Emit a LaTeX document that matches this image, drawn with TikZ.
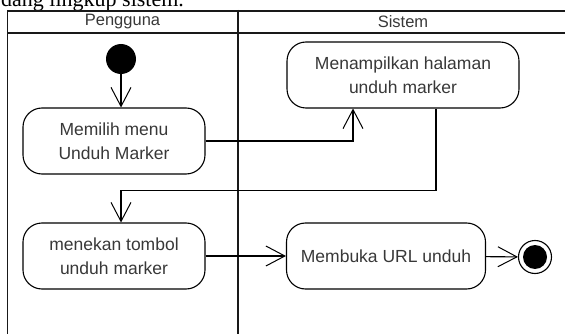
\documentclass[tikz,border=0pt]{standalone}
\usepackage{fontspec}
\setmainfont{Liberation Sans}
\newfontfamily\bodyserif{Liberation Serif}
\usetikzlibrary{arrows.meta}
\definecolor{ink}{HTML}{383838}
\begin{document}
\begin{tikzpicture}[x=1pt,y=-1pt,
  lane/.style={line width=1.8pt, black!90},
  lanetitle/.style={font=\fontsize{16.5}{18}\selectfont, text=ink},
  action/.style={draw, line width=1.1pt, rounded corners=19pt, minimum height=66pt,
    align=center, inner sep=0pt, font=\fontsize{17.5}{24}\selectfont, text=ink},
  flow/.style={line width=1.1pt, -{Straight Barb[length=19pt,width=20pt,line width=1pt]}},
  initial/.style={circle, fill=black, minimum size=30pt, inner sep=0pt},
  final/.style={circle, draw, line width=1.1pt, minimum size=33pt, inner sep=0pt,
    path picture={\fill[black] (path picture bounding box.center) circle (12pt);}}
]
\useasboundingbox (0,0) rectangle (565,334);

% running text of the page, cut by the top edge
\node[anchor=base west, inner sep=0pt, font=\bodyserif\fontsize{22}{24}\selectfont] (caption) at (1,7) {dang lingkup sistem.};

% swimlanes
\draw[lane] (7.5,10) -- (7.5,334);
\draw[lane] (238,10) -- (238,334);
\draw[lane] (7.5,11) -- (565,11);
\draw[lane] (7.5,33) -- (565,33);
\node[lanetitle] (pengguna) at (122.5,22) {Pengguna};
\node[lanetitle] (sistem) at (403,22) {Sistem};

% activities
\node[initial] (mulai) at (121,59) {};
\node[action, minimum width=182pt] (pilih) at (114,141) {Memilih menu\\Unduh Marker};
\node[action, minimum width=232pt] (tampil) at (403,75) {Menampilkan halaman\\unduh marker};
\node[action, minimum width=182pt] (tekan) at (114,256) {menekan tombol\\unduh marker};
\node[action, minimum width=199pt] (buka) at (386,256) {Membuka URL unduh};
\node[final] (akhir) at (535,257) {};

% control flow
\draw[flow] (mulai) -- (mulai |- pilih.north);
\draw[flow] (pilih.east) -| ([xshift=-50pt]tampil.south);
\draw[flow] ([xshift=33pt]tampil.south) -- ++(0,82) -| (mulai |- tekan.north);
\draw[flow] (tekan) -- (buka);
\draw[flow] (buka) -- (akhir);
\end{tikzpicture}
\end{document}
